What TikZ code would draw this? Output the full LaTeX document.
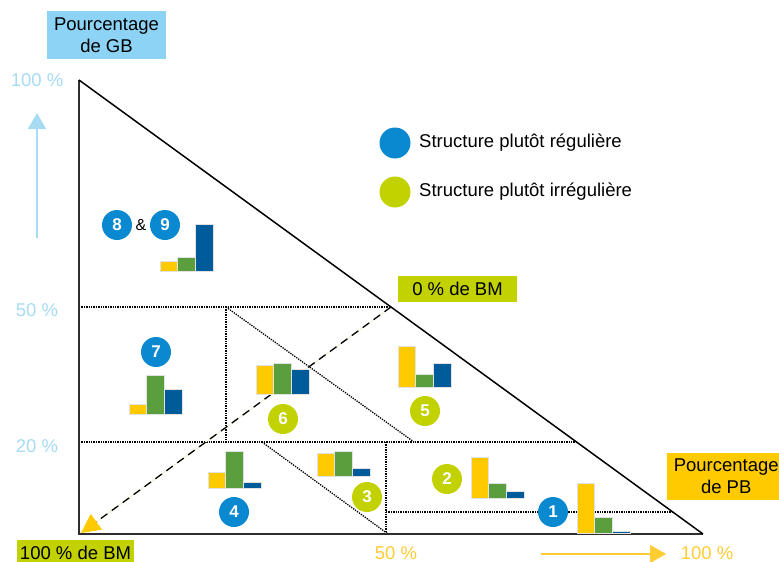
\documentclass[tikz,border=0pt]{standalone}
\usepackage{fontspec}
\setmainfont{Liberation Sans}
\usetikzlibrary{arrows.meta}

\definecolor{cyel}{HTML}{FFCB00}
\definecolor{cgreen}{HTML}{5A9E3E}
\definecolor{cdblue}{HTML}{005B9A}
\definecolor{cblue}{HTML}{0A89D0}
\definecolor{clime}{HTML}{C2D100}
\definecolor{boxblue}{HTML}{8CD3F5}
\definecolor{axblue}{HTML}{A6DBF4}
\definecolor{axyel}{HTML}{FFCC33}
\definecolor{edge}{HTML}{2E2E2E}
\definecolor{cream}{HTML}{EEEED6}
\definecolor{barline}{HTML}{E2E2E2}

% three-bar chart: left x, baseline y, heights of yellow, green, blue bars
\newcommand\barchart[5]{%
  \filldraw[fill=cyel,draw=barline,line width=0.5pt] (#1,#2) rectangle ++(17.7,-#3);
  \filldraw[fill=cgreen,draw=barline,line width=0.5pt] (#1+17.7,#2) rectangle ++(17.7,-#4);
  \filldraw[fill=cdblue,draw=barline,line width=0.5pt] (#1+35.4,#2) rectangle ++(17.7,-#5);
}

\begin{document}
\begin{tikzpicture}[x=1pt,y=-1pt,
  txt/.style={font=\fontsize{18.5}{22}\selectfont, inner sep=0pt},
  labelbox/.style={txt, align=center},
  ax/.style={txt, text=axblue},
  axy/.style={txt, text=axyel},
  num/.style={circle, minimum size=30pt, inner sep=0pt, text=white,
              font=\fontsize{17}{17}\selectfont\bfseries},
  regdot/.style={num, fill=cblue},
  irrdot/.style={num, fill=clime},
  zone/.style={line width=1.3pt, dash pattern=on 1.3pt off 1.1pt},
]
\useasboundingbox (0,0) rectangle (779,562);

% triangle
\coordinate (A) at (79,80);
\coordinate (O) at (79,534);
\coordinate (B) at (703,534);
\coordinate (H50) at (391,307);
\coordinate (BMtip) at (81,533);

% zone boundaries
\draw[zone] (79,307) -- (H50);
\draw[zone] (79,442) -- (576,442);
\draw[zone] (226,307) -- (226,442);
\draw[zone] (226,307) -- (414,442);
\draw[zone] (262,442) -- (388,534);
\draw[zone] (386,442) -- (386,534);
\draw[zone] (386,512) -- (673,512);

% BM direction
\draw[cream, line width=1pt] (H50) -- (BMtip);
\draw[black, line width=1.3pt, dash pattern=on 8pt off 5.5pt,
      -{Triangle[length=19pt,width=19pt,color=cyel]}] (H50) -- (BMtip);

\draw[edge, line width=2.2pt] (A) -- (O) -- (B);
\draw[black, line width=1.5pt] (A) -- (B);

% axis labels
\node[labelbox, fill=boxblue, minimum width=119pt, minimum height=48pt] (GB) at (106.5,35) {Pourcentage\\de GB};
\node[labelbox, fill=cyel, minimum width=118pt, minimum height=47pt, anchor=west] (PB) at (667,476.5) {Pourcentage\\de PB};
\node[labelbox, fill=clime, minimum width=119pt, minimum height=26pt] (BM0) at (457.5,289) {0 \% de BM};
\node[labelbox, fill=clime, minimum width=117pt, minimum height=26pt] (BM100) at (75.5,553) {100 \% de BM};

\node[ax] (g100) at (37,80) {100 \%};
\node[ax] (g50) at (37,310) {50 \%};
\node[ax] (g20) at (37,446) {20 \%};
\node[axy] (p50) at (396,553) {50 \%};
\node[axy] (p100) at (707,553) {100 \%};

\coordinate (gbase) at (37,238);
\coordinate (gtip) at (37,113);
\coordinate (pbase) at (541,554);
\coordinate (ptip) at (666,554);
\draw[axblue, line width=1.3pt, -{Triangle[length=16pt,width=18pt]}] (gbase) -- (gtip);
\draw[axyel, line width=1.3pt, -{Triangle[length=16pt,width=18pt]}] (pbase) -- (ptip);

% legend
\node[regdot, minimum size=31pt] (lreg) at (395,143) {};
\node[txt, anchor=west] (treg) at (419,143) {Structure plutôt régulière};
\node[irrdot, minimum size=31pt] (lirr) at (395,192) {};
\node[txt, anchor=west] (tirr) at (419,192) {Structure plutôt irrégulière};

% bar charts
\barchart{160}{271}{10}{14}{47}
\barchart{129}{414}{10}{39}{25}
\barchart{256}{394}{29}{31}{25}
\barchart{398}{387}{41}{13}{24}
\barchart{208}{488}{16}{37}{6}
\barchart{317}{476}{23}{25}{8}
\barchart{471}{498}{41}{15}{7}
\barchart{577}{533}{50}{16}{2}

% numbered structures
\node[regdot] (s8) at (117,225) {8};
\node[txt, font=\fontsize{16}{16}\selectfont] (amp) at (141,225) {\&};
\node[regdot] (s9) at (165,225) {9};
\node[regdot] (s7) at (156,352) {7};
\node[irrdot] (s6) at (283,419) {6};
\node[irrdot] (s5) at (425,411) {5};
\node[regdot] (s4) at (234,512) {4};
\node[irrdot] (s3) at (367,497) {3};
\node[irrdot] (s2) at (447,479) {2};
\node[regdot] (s1) at (553,512) {1};
\end{tikzpicture}
\end{document}
